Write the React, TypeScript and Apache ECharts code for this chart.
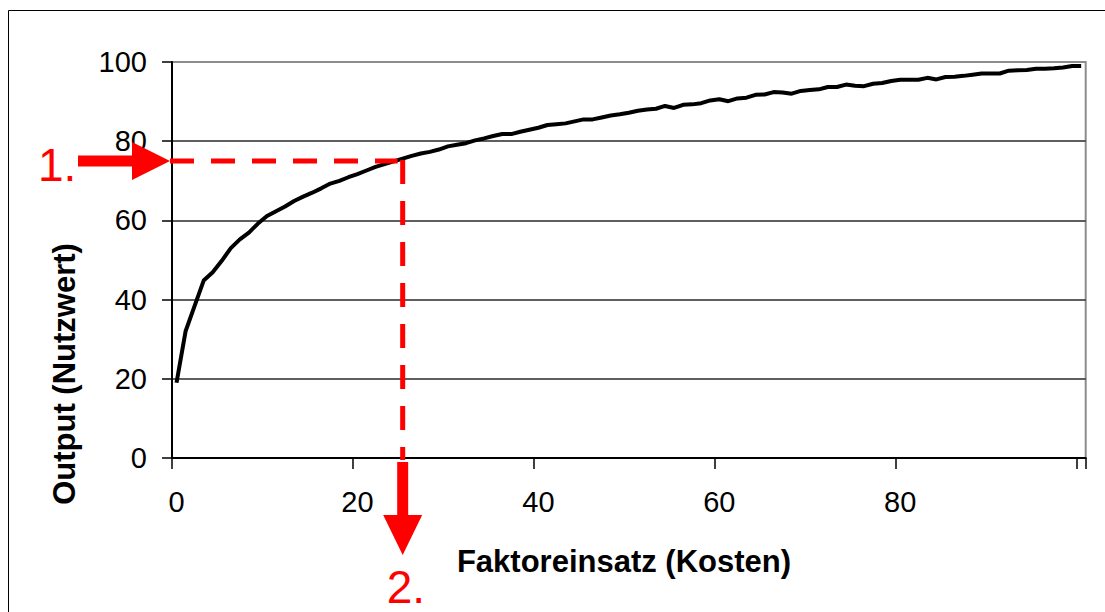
import React, { useEffect, useRef } from "react";
import * as echarts from "echarts";

// Category axis: Faktoreinsatz 0..100
const categories: string[] = Array.from({ length: 101 }, (_, i) => String(i));

// Output (Nutzwert), one value per category
const output: number[] = [
  19.0, 32.0, 38.4, 44.8, 46.9, 49.8, 53.0, 55.2, 56.9, 59.2,
  61.1, 62.3, 63.5, 64.9, 66.0, 67.0, 68.1, 69.3, 70.0, 70.9,
  71.7, 72.6, 73.5, 74.2, 74.9, 75.6, 76.3, 76.9, 77.3, 77.9,
  78.7, 79.1, 79.5, 80.2, 80.7, 81.3, 81.8, 81.8, 82.4, 82.9,
  83.4, 84.1, 84.3, 84.5, 85.0, 85.5, 85.5, 86.0, 86.5, 86.8,
  87.2, 87.7, 88.0, 88.2, 88.9, 88.4, 89.2, 89.3, 89.6, 90.3,
  90.6, 90.1, 90.8, 91.0, 91.7, 91.8, 92.4, 92.3, 92.0, 92.7,
  92.9, 93.1, 93.7, 93.7, 94.3, 94.0, 93.9, 94.5, 94.7, 95.2,
  95.5, 95.5, 95.5, 96.0, 95.6, 96.2, 96.3, 96.5, 96.8, 97.1,
  97.1, 97.1, 97.8, 97.9, 98.0, 98.3, 98.3, 98.4, 98.6, 99.0,
  99.0,
];

const yMin = 0;
const yMax = 100;
const yStep = 20;
const xLabelStep = 20;
const xLabelLast = 80;

// Annotation: at output 75 the input is 25
const markX = 25;
const markY = 75;
const label1 = "1.";
const label2 = "2.";
const xTitle = "Faktoreinsatz (Kosten)";
const yTitle = "Output (Nutzwert)";

const FONT = "'Liberation Sans', Arial, sans-serif";
const RED = "#ff0000";

export default function App() {
  const ref = useRef<HTMLDivElement>(null);

  useEffect(() => {
    document.body.style.margin = "0";
    if (!ref.current) return;
    const chart = echarts.init(ref.current, undefined, { renderer: "svg" });
    const gridLeft = 172;
    const gridTop = 62;
    const gridWidth = 913.7;
    const gridHeight = 396;

    chart.setOption({
      animation: false,
      backgroundColor: "#ffffff",
      grid: {
        left: gridLeft,
        top: gridTop,
        width: gridWidth,
        height: gridHeight,
        show: true,
        borderColor: "#8c8c8c",
        borderWidth: 2,
        backgroundColor: "transparent",
      },
      xAxis: {
        type: "category",
        data: categories,
        boundaryGap: true,
        axisLine: { show: true, lineStyle: { color: "#000", width: 2 } },
        axisTick: {
          show: true,
          interval: (i: number) => i % xLabelStep === 0,
          length: 11,
          lineStyle: { color: "#000", width: 1.5 },
        },
        axisLabel: {
          interval: (i: number) => i % xLabelStep === 0 && i <= xLabelLast,
          margin: 29,
          color: "#000",
          fontSize: 29,
          fontFamily: FONT,
        },
        splitLine: { show: false },
      },
      yAxis: {
        type: "value",
        min: yMin,
        max: yMax,
        interval: yStep,
        axisLine: { show: true, lineStyle: { color: "#000", width: 2 } },
        axisTick: { show: true, length: 10, lineStyle: { color: "#000", width: 1.5 } },
        axisLabel: { margin: 25, color: "#000", fontSize: 29, fontFamily: FONT },
        splitLine: {
          show: true,
          showMinLine: false,
          showMaxLine: false,
          lineStyle: { color: "#2a2a2a", width: 1.6 },
        },
      },
      series: [
        {
          type: "line",
          data: output,
          symbol: "none",
          z: 3,
          lineStyle: { color: "#000", width: 4 },
        },
      ],
    });

    const P = chart.convertToPixel({ gridIndex: 0 }, [markX, markY]) as number[];
    const bottom = (chart.convertToPixel({ gridIndex: 0 }, [0, yMin]) as number[])[1];
    const left = gridLeft;
    const px = P[0];
    const py = P[1];

    chart.setOption({
      graphic: [
        {
          type: "rect",
          silent: true,
          shape: { x: 8.5, y: 10.5, width: 1200, height: 800 },
          style: { fill: "none", stroke: "#000", lineWidth: 1 },
          z: 1,
        },
        {
          type: "line",
          z: 100,
          shape: { x1: left - 2, y1: py, x2: px - 5, y2: py },
          style: { stroke: RED, lineWidth: 5, lineDash: [24, 17] },
        },
        {
          type: "line",
          z: 100,
          shape: { x1: px, y1: py - 1, x2: px, y2: bottom + 2 },
          style: { stroke: RED, lineWidth: 5, lineDash: [24, 17] },
        },
        {
          type: "rect",
          z: 100,
          shape: { x: left - 94, y: py - 5.5, width: 56, height: 11 },
          style: { fill: RED },
        },
        {
          type: "polygon",
          z: 100,
          shape: { points: [[left - 40, py - 19], [left - 40, py + 19], [left - 2, py]] },
          style: { fill: RED },
        },
        {
          type: "rect",
          z: 100,
          shape: { x: px - 5.5, y: bottom + 4, width: 11, height: 54 },
          style: { fill: RED },
        },
        {
          type: "polygon",
          z: 100,
          shape: { points: [[px - 19.5, bottom + 57], [px + 19.5, bottom + 57], [px, bottom + 97]] },
          style: { fill: RED },
        },
        {
          type: "text",
          z: 100,
          x: 38,
          y: 165,
          style: {
            text: label1,
            fill: RED,
            font: `46px ${FONT}`,
            textAlign: "left",
            textVerticalAlign: "middle",
          },
        },
        {
          type: "text",
          z: 100,
          x: px - 16,
          y: 587,
          style: {
            text: label2,
            fill: RED,
            font: `46px ${FONT}`,
            textAlign: "left",
            textVerticalAlign: "middle",
          },
        },
        {
          type: "text",
          z: 100,
          x: 624,
          y: 561,
          style: {
            text: xTitle,
            fill: "#000",
            font: `bold 31px ${FONT}`,
            textAlign: "center",
            textVerticalAlign: "middle",
          },
        },
        {
          type: "text",
          z: 100,
          x: 64,
          y: 374,
          rotation: Math.PI / 2,
          style: {
            text: yTitle,
            fill: "#000",
            font: `bold 31px ${FONT}`,
            textAlign: "center",
            textVerticalAlign: "middle",
          },
        },
      ],
    });

    return () => chart.dispose();
  }, []);

  return <div ref={ref} style={{ width: 1105, height: 612 }} />;
}
